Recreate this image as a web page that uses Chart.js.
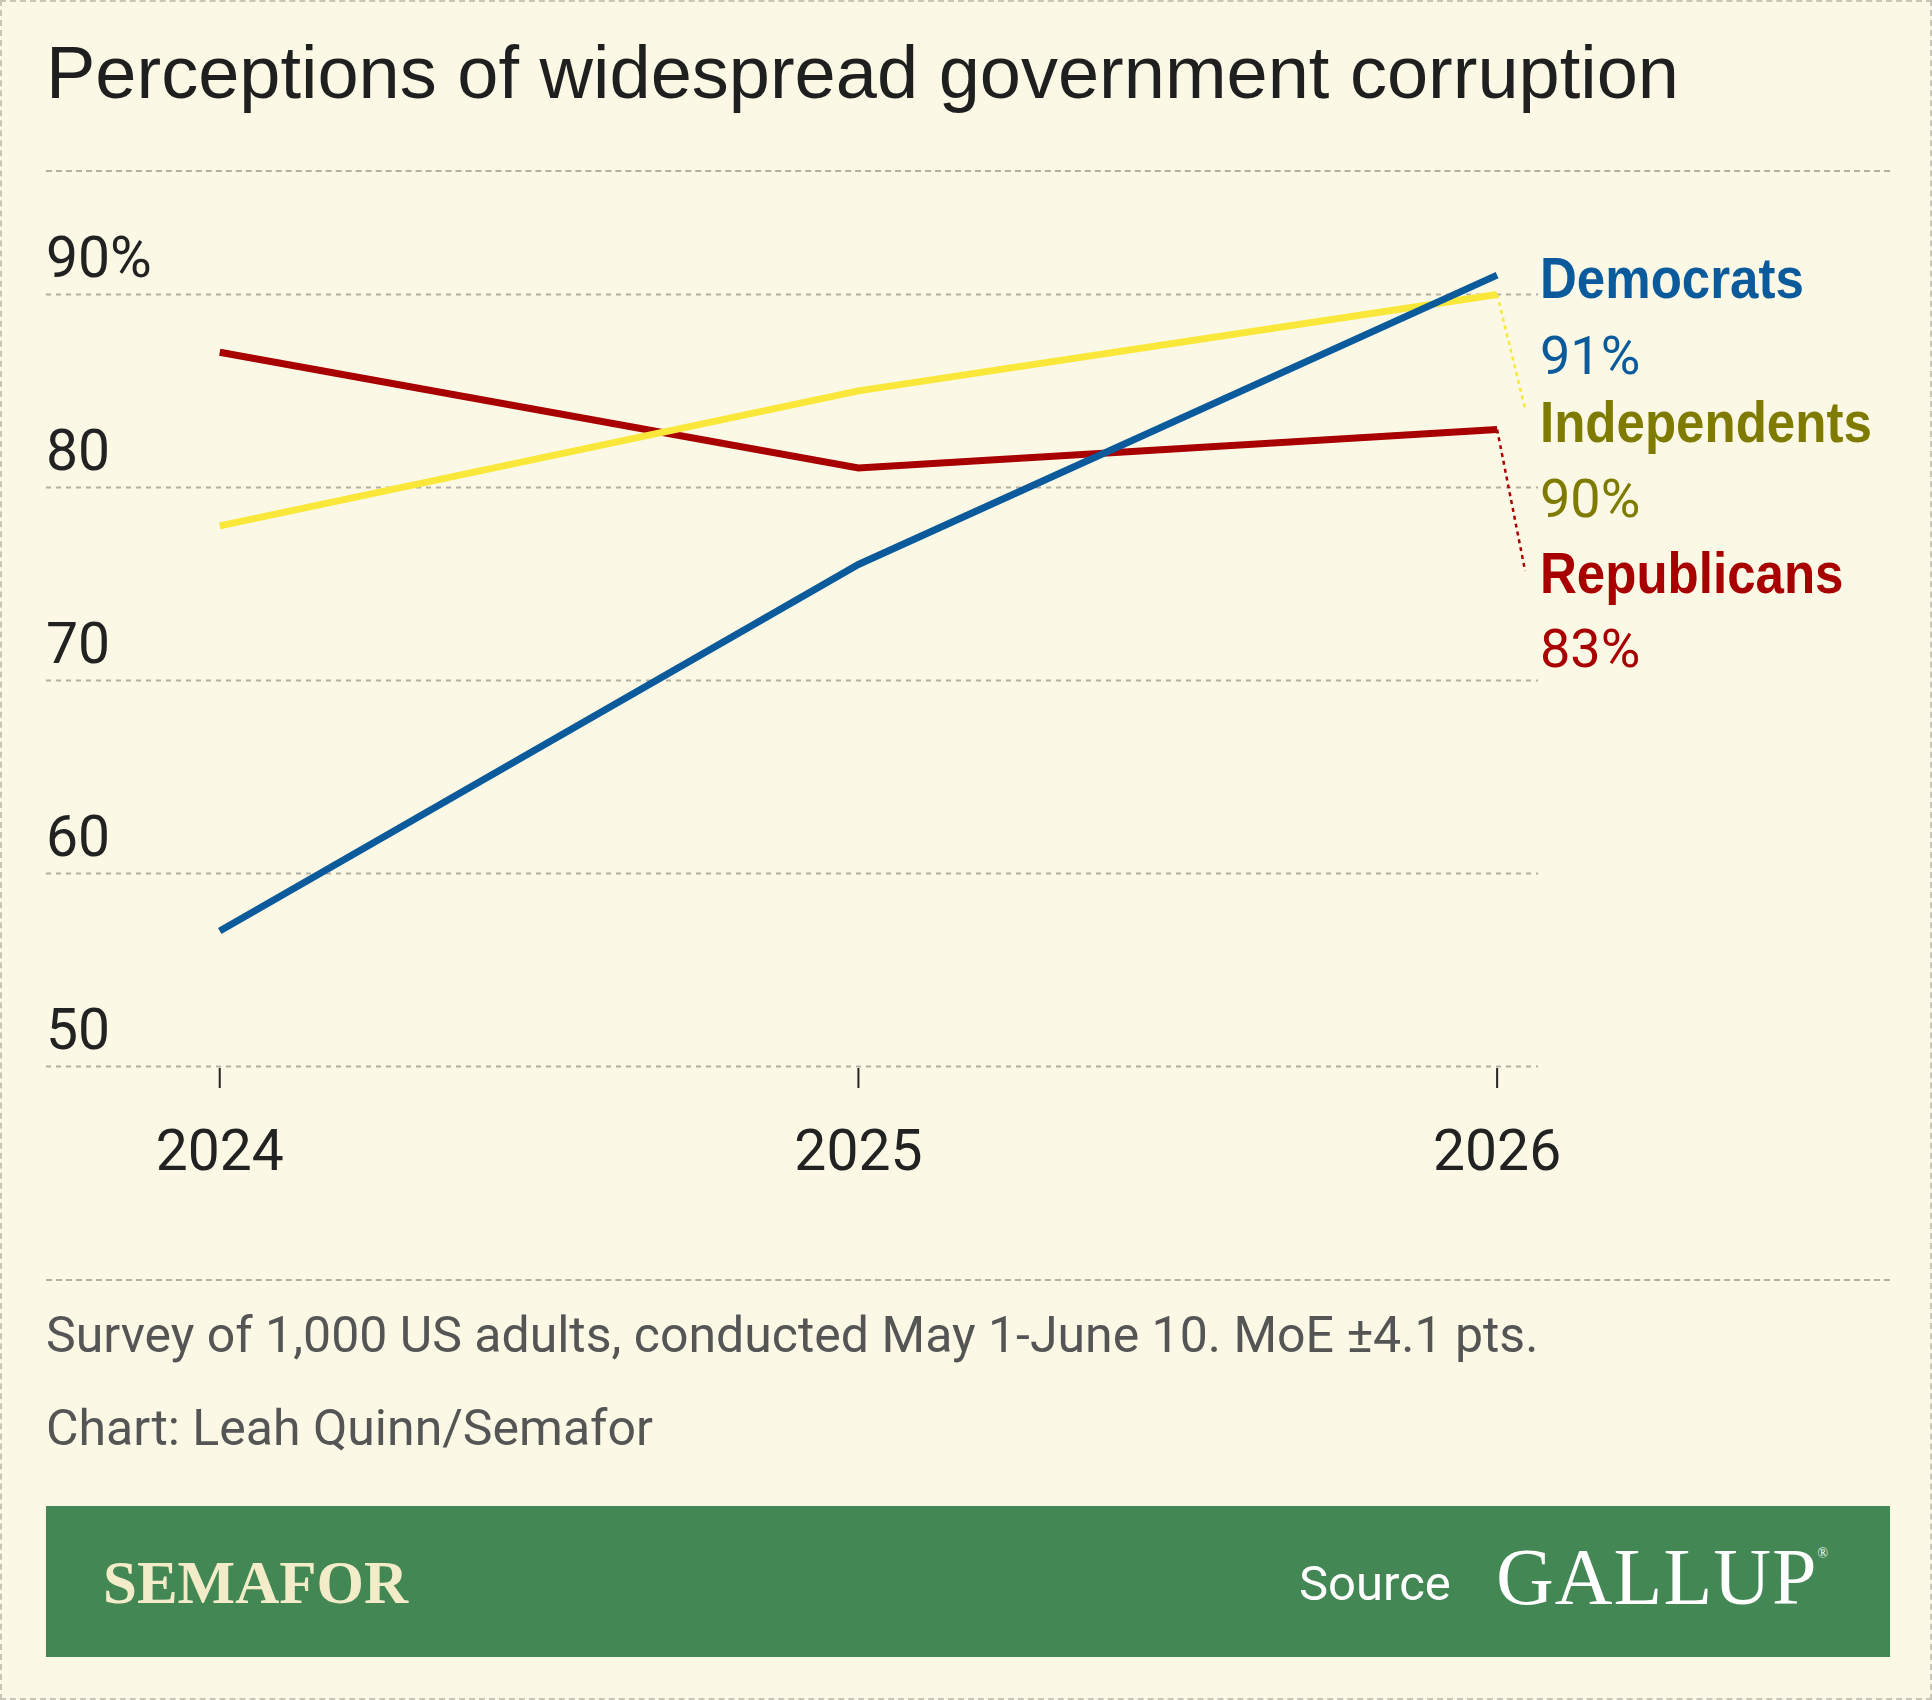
<!DOCTYPE html>
<html><head><meta charset="utf-8">
<script src="https://cdn.jsdelivr.net/npm/chart.js@4"></script>
<style>
html,body{margin:0;padding:0;background:#fbf9e6;}
#wrap{position:relative;width:1932px;height:1700px;box-sizing:border-box;border:2px dashed #c9c6b8;overflow:hidden;}
canvas{position:absolute;left:0;top:0;}
.t{position:absolute;white-space:nowrap;}
</style></head><body>
<div id="wrap">
<div class="t" style="left:44px;top:28px;font:74px 'Liberation Sans',Arial,sans-serif;color:#1f1f1f;">Perceptions of widespread government corruption</div>
<div style="position:absolute;left:44px;top:168px;width:1844px;border-top:2px dashed #b3afa3;"></div>
<div style="position:absolute;left:44px;top:1277px;width:1844px;border-top:2px dashed #b3afa3;"></div>
<div class="t" style="left:44px;top:1304px;font:50px Roboto,sans-serif;color:#555;">Survey of 1,000 US adults, conducted May 1-June 10. MoE ±4.1 pts.</div>
<div class="t" style="left:44px;top:1397px;font:50px Roboto,sans-serif;color:#555;">Chart: Leah Quinn/Semafor</div>
<div style="position:absolute;left:44px;top:1504px;width:1844px;height:151px;background:#428754;"></div>
<div class="t" style="left:101px;top:1546px;font:bold 61px 'Liberation Serif',serif;color:#f3ecc8;">SEMAFOR</div>
<div class="t" style="left:1297px;top:1553px;font:49px Roboto,sans-serif;color:#fff;">Source</div>
<div class="t" style="left:1494px;top:1530px;font:80px 'Liberation Serif',serif;color:#fff;letter-spacing:1px;">GALLUP<span style="font-size:14px;vertical-align:top;position:relative;top:14px;">®</span></div>
<canvas id="c" width="1932" height="1700"></canvas>
</div>
<script>
const years=[2024,2025,2026];
const democrats=[57,76,91];
const independents=[78,85,90];
const republicans=[87,81,83];
const yTicks=[50,60,70,80,90];
const names=['Democrats','Independents','Republicans'];
const lineColors=['#0a5a9c','#f9e83a','#a80000'];
const labelColors=['#0a5a9c','#7f7b00','#a80000'];
const vals=[democrats,independents,republicans];
const ctx=document.getElementById('c').getContext('2d');
const decor={id:'decor',
beforeDatasetsDraw(ch){const c=ch.ctx,y=ch.scales.y,x=ch.scales.x,a=ch.chartArea;
 c.save();c.strokeStyle='#b3afa3';c.lineWidth=2;c.setLineDash([5,5]);
 yTicks.forEach(v=>{const p=Math.round(y.getPixelForValue(v))+0.5;c.beginPath();c.moveTo(a.left,p);c.lineTo(a.right,p);c.stroke();});
 c.setLineDash([]);c.fillStyle='#222';c.font='57px Roboto, sans-serif';c.textBaseline='alphabetic';c.textAlign='left';
 yTicks.forEach((v,i)=>c.fillText(v+(i===yTicks.length-1?'%':''),a.left,y.getPixelForValue(v)-17));
 c.strokeStyle='#222';c.lineWidth=2;c.textAlign='center';
 years.forEach(v=>{const p=x.getPixelForValue(v);c.beginPath();c.moveTo(p,a.bottom+2);c.lineTo(p,a.bottom+22);c.stroke();c.fillText(String(v),p,a.bottom+104);});
 c.restore();},
afterDatasetsDraw(ch){const c=ch.ctx,y=ch.scales.y,x=ch.scales.x;
 const px=x.getPixelForValue(2026);c.save();c.lineWidth=2.5;c.setLineDash([4,4]);
 [[1,407],[2,569]].forEach(([i,ey])=>{const d=vals[i];c.strokeStyle=lineColors[i];c.beginPath();c.moveTo(px,y.getPixelForValue(d[d.length-1]));c.lineTo(px+28,ey);c.stroke();});
 c.setLineDash([]);c.textAlign='left';
 const ys=[[296,372],[440,515],[591,665]];
 names.forEach((n,i)=>{c.fillStyle=labelColors[i];
  c.save();c.translate(1538,ys[i][0]);c.scale(0.88,1);c.font="bold 58px 'Liberation Sans', sans-serif";c.fillText(n,0,0);c.restore();
  c.font='54px Roboto, sans-serif';c.fillText(vals[i][vals[i].length-1]+'%',1538,ys[i][1]);});
 c.restore();}};
new Chart(ctx,{type:'line',
data:{datasets:[0,1,2].map(i=>({label:names[i],data:vals[i].map((v,j)=>({x:years[j],y:v})),borderColor:lineColors[i],borderWidth:7,pointRadius:0,tension:0,fill:false}))},
options:{responsive:false,animation:false,
 layout:{padding:{left:44,right:396,top:169,bottom:636}},
 plugins:{legend:{display:false},tooltip:{enabled:false}},
 scales:{
  x:{type:'linear',min:2023.728,max:2026.064,ticks:{display:false},grid:{display:false},border:{display:false},afterFit:s=>{s.height=0;}},
  y:{min:50,max:96.4,ticks:{display:false},grid:{display:false},border:{display:false},afterFit:s=>{s.width=0;}}}},
plugins:[decor]});
</script>
</body></html>
